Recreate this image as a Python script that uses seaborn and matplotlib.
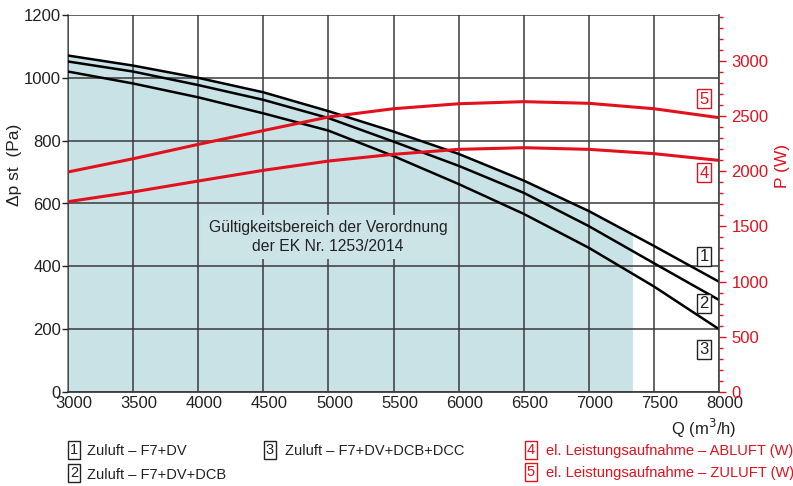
import numpy as np
import pandas as pd
import matplotlib
matplotlib.use("Agg")
import matplotlib.pyplot as plt
import matplotlib.transforms as mtransforms
import seaborn as sns

# ---- data ----
q = [3000, 3500, 4000, 4500, 5000, 5500, 6000, 6500, 7000, 7500, 8000]
curve1 = [1071, 1039, 1000, 954, 894, 829, 758, 673, 576, 465, 351]   # Zuluft F7+DV
curve2 = [1052, 1020, 977, 930, 872, 797, 720, 634, 528, 410, 293]    # Zuluft F7+DV+DCB
curve3 = [1020, 982, 938, 887, 832, 751, 662, 567, 459, 336, 200]     # Zuluft F7+DV+DCB+DCC
p_abluft = [1724, 1812, 1911, 2008, 2092, 2153, 2198, 2213, 2198, 2159, 2098]
p_zuluft = [1993, 2113, 2243, 2368, 2491, 2566, 2611, 2630, 2615, 2566, 2485]
valid_limit = 7335
x_ticks = [3000, 3500, 4000, 4500, 5000, 5500, 6000, 6500, 7000, 7500, 8000]
y_ticks = [0, 200, 400, 600, 800, 1000, 1200]
p_ticks = [0, 500, 1000, 1500, 2000, 2500, 3000]
legend_black = ["Zuluft – F7+DV", "Zuluft – F7+DV+DCB", "Zuluft – F7+DV+DCB+DCC"]
legend_red = ["el. Leistungsaufnahme – ABLUFT (W)", "el. Leistungsaufnahme – ZULUFT (W)"]

sns.set_style("white")
plt.rcParams['font.family'] = ['Liberation Sans', 'DejaVu Sans']

RED = "#e3101d"
FILL = "#c9e2e6"
GRID = "#3a3a3a"
TXT = "#222222"

fig = plt.figure(figsize=(7.93, 4.86), dpi=100)
W, H = 793, 486
L, R, T, B = 68, 719, 15, 392
ax = fig.add_axes([L / W, 1 - B / H, (R - L) / W, (B - T) / H])

df = pd.DataFrame({"Q": q, "c1": curve1, "c2": curve2, "c3": curve3,
                   "p4": p_abluft, "p5": p_zuluft})

# shaded validity region under curve 1
xf = np.array([x for x in q if x < valid_limit] + [valid_limit])
yf = np.interp(xf, q, curve1)
ax.fill_between(xf, 0, yf, color=FILL, lw=0, zorder=0)

for c in ["c1", "c2", "c3"]:
    sns.lineplot(data=df, x="Q", y=c, ax=ax, color="black", lw=1.8, zorder=3)

ax.set_xlim(3000, 8000)
ax.set_ylim(0, 1200)
ax.set_xticks(x_ticks)
ax.set_yticks(y_ticks)
ax.grid(True, color=GRID, lw=1.1, zorder=1)
ax.set_axisbelow(False)
for gl in ax.get_xgridlines() + ax.get_ygridlines():
    gl.set_zorder(1)
ax.set_xlabel("")
ax.set_ylabel("")
ax.tick_params(axis="both", labelsize=12, colors=TXT, length=4, width=1,
               direction="out", pad=1)
ax.tick_params(axis="x", length=0, pad=3)
shift = mtransforms.ScaledTranslation(6 / 100, 0, fig.dpi_scale_trans)
for lab in ax.get_xticklabels():
    lab.set_transform(lab.get_transform() + shift)
for s in ["top", "right"]:
    ax.spines[s].set_visible(False)
ax.spines["left"].set_color("#777777")
ax.spines["bottom"].set_color("#333333")
ax.spines["left"].set_linewidth(1.2)
ax.spines["bottom"].set_linewidth(1.2)

ax2 = ax.twinx()
sns.lineplot(data=df, x="Q", y="p4", ax=ax2, color=RED, lw=2.2)
sns.lineplot(data=df, x="Q", y="p5", ax=ax2, color=RED, lw=2.2)
ax2.set_ylim(0, 3415)
ax2.set_yticks(p_ticks)
ax2.set_yticks(np.arange(0, 3401, 100), minor=True)
ax2.set_ylabel("")
ax2.tick_params(axis="y", which="major", labelsize=12, colors=RED, length=5, width=1, pad=4)
ax2.tick_params(axis="y", which="minor", colors=RED, length=3, width=1)
ax2.grid(False)
for s in ["top", "left", "bottom"]:
    ax2.spines[s].set_visible(False)
ax2.spines["right"].set_color("#444444")
ax2.spines["right"].set_linewidth(1.2)
ax2.patch.set_visible(False)

# annotation
ax.text(4997, 493, "Gültigkeitsbereich der Verordnung\nder EK Nr. 1253/2014",
        ha="center", va="center", fontsize=11.3, color=TXT, linespacing=1.3,
        zorder=5, bbox=dict(boxstyle="square,pad=0.35", fc="#cde4e7", ec="none"))

# boxed curve labels
def boxed(x, y, s, color, size=12):
    fig.text(x / W, 1 - y / H, s, ha="center", va="center", fontsize=size, color=color,
             bbox=dict(boxstyle="square,pad=0.12", fc="white", ec=color, lw=1))

boxed(704, 256, "1", TXT)
boxed(704, 303, "2", TXT)
boxed(704, 349, "3", TXT)
boxed(704, 99, "5", RED)
boxed(704, 173, "4", RED)

# axis labels
fig.text(15 / W, 1 - 165 / H, "Δp st  (Pa)", rotation=90, ha="center", va="center",
         fontsize=12.5, color=TXT)
fig.text(783 / W, 1 - 166 / H, "P (W)", rotation=90, ha="center", va="center",
         fontsize=12.5, color=RED)
fig.text(736 / W, 1 - 428 / H, "Q (m$^3$/h)", ha="right", va="center",
         fontsize=12, color=TXT)

# legend
LS = 10.5
boxed(74, 450, "1", TXT, LS)
fig.text(87 / W, 1 - 451 / H, legend_black[0], ha="left", va="center", fontsize=LS, color=TXT)
boxed(74, 473, "2", TXT, LS)
fig.text(87 / W, 1 - 475 / H, legend_black[1], ha="left", va="center", fontsize=LS, color=TXT)
boxed(270, 450, "3", TXT, LS)
fig.text(285 / W, 1 - 451 / H, legend_black[2], ha="left", va="center", fontsize=LS, color=TXT)
boxed(531, 450, "4", RED, LS)
fig.text(546 / W, 1 - 451 / H, legend_red[0], ha="left", va="center", fontsize=LS, color=RED)
boxed(531, 472, "5", RED, LS)
fig.text(546 / W, 1 - 473 / H, legend_red[1], ha="left", va="center", fontsize=LS, color=RED)

fig.savefig("out.png", dpi=100)
